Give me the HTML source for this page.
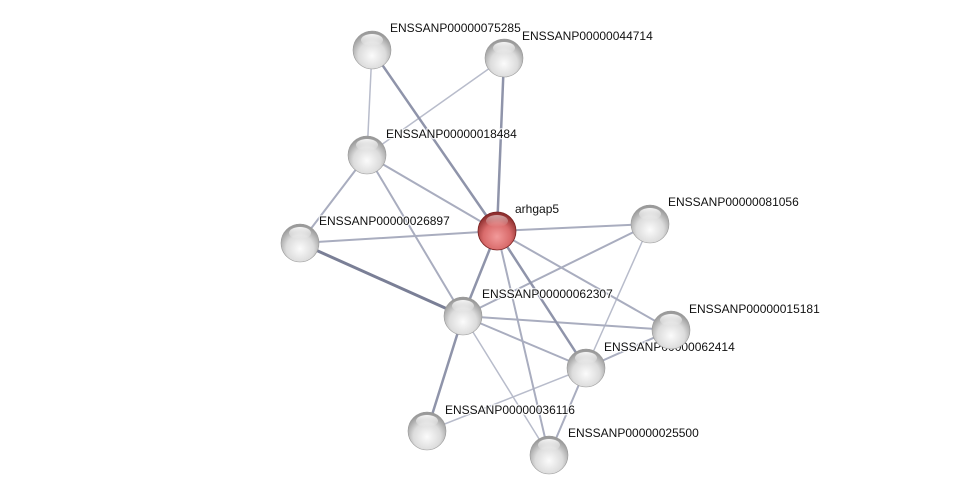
<!DOCTYPE html>
<html><head><meta charset="utf-8"><style>
html,body{margin:0;padding:0;background:#fff;width:976px;height:500px;overflow:hidden}
text{font-family:"Liberation Sans",sans-serif;font-size:12px;fill:#111;stroke:#fff;stroke-width:2.5px;stroke-opacity:0.8;paint-order:stroke}
</style></head><body>
<svg width="976" height="500" xmlns="http://www.w3.org/2000/svg">
<defs>
<radialGradient id="g" cx="50%" cy="65%" r="60%">
<stop offset="0" stop-color="#fbfbfb"/><stop offset="0.6" stop-color="#dcdcdc"/><stop offset="1" stop-color="#9a9a9a"/>
</radialGradient>
<radialGradient id="r" cx="50%" cy="65%" r="60%">
<stop offset="0" stop-color="#f29a9a"/><stop offset="0.6" stop-color="#d96b6b"/><stop offset="1" stop-color="#8e2f2f"/>
</radialGradient>
<linearGradient id="h" x1="0" y1="0" x2="0" y2="1">
<stop offset="0" stop-color="#fff" stop-opacity="0.9"/><stop offset="1" stop-color="#fff" stop-opacity="0"/>
</linearGradient>
</defs>
<g stroke-linecap="round">
<g stroke="#b8bccb" stroke-width="1.5">
<line x1="372" y1="50" x2="367" y2="155"/>
<line x1="504" y1="58" x2="367" y2="155"/>
<line x1="650" y1="224" x2="586" y2="368"/>
<line x1="586" y1="368" x2="427" y2="431"/>
<line x1="463" y1="316" x2="549" y2="455"/>
</g>
<g stroke="#a9adbf" stroke-width="2">
<line x1="367" y1="155" x2="300" y2="243"/>
<line x1="367" y1="155" x2="497" y2="231"/>
<line x1="367" y1="155" x2="463" y2="316"/>
<line x1="300" y1="243" x2="497" y2="231"/>
<line x1="497" y1="231" x2="650" y2="224"/>
<line x1="497" y1="231" x2="671" y2="330"/>
<line x1="497" y1="231" x2="549" y2="455"/>
<line x1="650" y1="224" x2="463" y2="316"/>
<line x1="463" y1="316" x2="671" y2="330"/>
<line x1="463" y1="316" x2="586" y2="368"/>
<line x1="671" y1="330" x2="586" y2="368"/>
<line x1="586" y1="368" x2="549" y2="455"/>
</g>
<g stroke="#8f94aa" stroke-width="2.5">
<line x1="372" y1="50" x2="497" y2="231"/>
<line x1="504" y1="58" x2="497" y2="231"/>
<line x1="497" y1="231" x2="463" y2="316"/>
<line x1="497" y1="231" x2="586" y2="368"/>
<line x1="463" y1="316" x2="427" y2="431"/>
</g>
<line x1="300" y1="243" x2="463" y2="316" stroke="#7a7f96" stroke-width="3"/>
</g>
<text x="390" y="32">ENSSANP00000075285</text>
<text x="522" y="40">ENSSANP00000044714</text>
<text x="386" y="138">ENSSANP00000018484</text>
<text x="319" y="225">ENSSANP00000026897</text>
<text x="515" y="213">arhgap5</text>
<text x="668" y="206">ENSSANP00000081056</text>
<text x="482" y="298">ENSSANP00000062307</text>
<text x="689" y="313">ENSSANP00000015181</text>
<text x="604" y="351">ENSSANP00000062414</text>
<text x="445" y="414">ENSSANP00000036116</text>
<text x="568" y="437">ENSSANP00000025500</text>
<g>
<g transform="translate(372,50)"><circle r="19" fill="url(#g)" stroke="#999" stroke-width="0.6"/><ellipse cy="-10" rx="11" ry="6" fill="url(#h)"/></g>
<g transform="translate(504,58)"><circle r="19" fill="url(#g)" stroke="#999" stroke-width="0.6"/><ellipse cy="-10" rx="11" ry="6" fill="url(#h)"/></g>
<g transform="translate(367,155)"><circle r="19" fill="url(#g)" stroke="#999" stroke-width="0.6"/><ellipse cy="-10" rx="11" ry="6" fill="url(#h)"/></g>
<g transform="translate(300,243)"><circle r="19" fill="url(#g)" stroke="#999" stroke-width="0.6"/><ellipse cy="-10" rx="11" ry="6" fill="url(#h)"/></g>
<g transform="translate(650,224)"><circle r="19" fill="url(#g)" stroke="#999" stroke-width="0.6"/><ellipse cy="-10" rx="11" ry="6" fill="url(#h)"/></g>
<g transform="translate(463,316)"><circle r="19" fill="url(#g)" stroke="#999" stroke-width="0.6"/><ellipse cy="-10" rx="11" ry="6" fill="url(#h)"/></g>
<g transform="translate(586,368)"><circle r="19" fill="url(#g)" stroke="#999" stroke-width="0.6"/><ellipse cy="-10" rx="11" ry="6" fill="url(#h)"/></g>
<g transform="translate(671,330)"><circle r="19" fill="url(#g)" stroke="#999" stroke-width="0.6"/><ellipse cy="-10" rx="11" ry="6" fill="url(#h)"/></g>
<g transform="translate(427,431)"><circle r="19" fill="url(#g)" stroke="#999" stroke-width="0.6"/><ellipse cy="-10" rx="11" ry="6" fill="url(#h)"/></g>
<g transform="translate(549,455)"><circle r="19" fill="url(#g)" stroke="#999" stroke-width="0.6"/><ellipse cy="-10" rx="11" ry="6" fill="url(#h)"/></g>
<g transform="translate(497,231)"><circle r="19" fill="url(#r)" stroke="#7a2222" stroke-width="0.8"/><ellipse cy="-10" rx="11" ry="6" fill="url(#h)" opacity="0.6"/></g>
</g>
</svg>
</body></html>
